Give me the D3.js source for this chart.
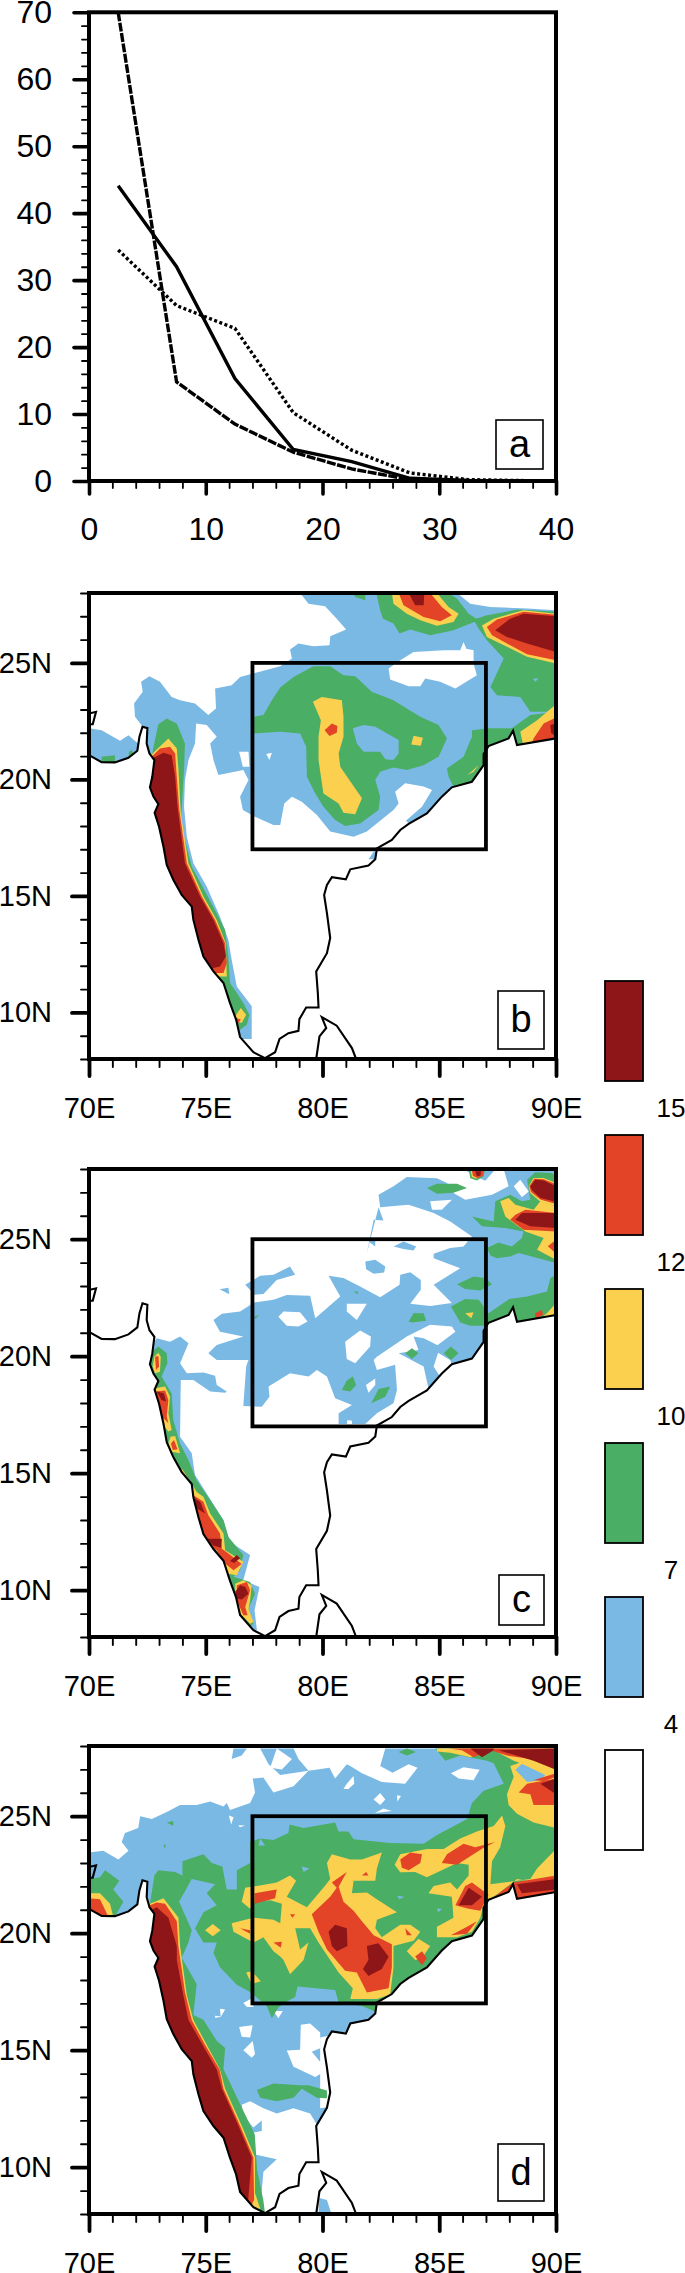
<!DOCTYPE html>
<html>
<head>
<meta charset="utf-8">
<script src="https://d3js.org/d3.v7.min.js"></script>
<style>
body { margin: 0; background: #fff; }
text { font-family: "Liberation Sans", Arial, sans-serif; fill: #000; }
</style>
</head>
<body>
<svg id="chart" width="685" height="2273"></svg>
<script>
// panel a
var binCentres = [2.5, 7.5, 12.5, 17.5, 22.5, 27.5, 32.5, 37.5];
var solidLine = [44.1, 32, 15.3, 4.7, 2.9, 0.4, 0.1, 0];
var dottedLine = [34.5, 26.2, 22.8, 10.2, 4.6, 1.2, 0.2, 0.05];
var dashedLine = [70, 14.8, 8.5, 4.3, 1.8, 0.2, 0.05, 0];

// legend
var levelColors = ["#ffffff", "#7bb9e5", "#4bae65", "#fbd04e", "#e34326", "#8e1518"];
var levelLabels = ["4", "7", "10", "12", "15"];

// map outlines, lon lat
var coast = [[70,21.04],[70.54,20.74],[71.11,20.73],[71.69,20.93],[72.07,21.23],[72.16,21.83],[72.29,22.26],[72.5,22.2],[72.47,21.54],[72.59,21.11],[72.8,20.83],[72.71,20.11],[72.61,19.66],[72.76,19.26],[72.97,18.94],[72.81,18.57],[73,17.97],[73.19,17.11],[73.33,16.33],[73.61,15.69],[73.97,15.04],[74.4,14.54],[74.47,13.97],[74.69,13.11],[74.9,12.4],[75.33,11.76],[75.76,11.26],[76.04,10.4],[76.3,9.69],[76.47,8.94],[77.04,8.29],[77.54,8.04],[77.97,8.29],[78.16,8.86],[78.54,9.11],[78.97,9.21],[79.01,9.71],[79.3,10.21],[79.83,10.21],[79.8,10.83],[79.73,11.76],[80.19,12.54],[80.33,13.19],[80.19,14.26],[80.07,15.04],[80.19,15.47],[80.4,15.8],[81,15.71],[81.19,16.14],[81.97,16.3],[82.26,16.57],[82.33,17.04],[82.97,17.4],[83.33,17.83],[83.69,18.09],[84.47,18.54],[85.11,19.26],[85.54,19.66],[86.4,19.9],[86.9,20.61],[86.9,21.09],[87.11,21.43],[87.97,21.76],[88.16,22.09],[88.33,21.47],[90,21.76]];
var kutch = [[70,22.83],[70.3,22.9],[70.16,22.37],[70,22.37]];
var lanka = [[79.73,8],[79.87,8.97],[80.16,9.33],[79.97,9.8],[80.61,9.43],[81.26,8.47],[81.44,8]];
var boxLons = [77, 87];
var boxLats = [17, 25];

// contour areas, painted in this order: [level index, outline]
var areasB = [
[1,[[79.04,28],[79.4,27.54],[80.11,27.43],[80.61,26.9],[81.01,26.43],[80.33,26.14],[80.3,25.76],[79.61,25.71],[78.97,25.83],[78.61,25.57],[78.69,25.19],[78.19,24.86],[77.47,24.66],[76.47,24.4],[76.11,24.04],[75.4,23.9],[75.44,23.04],[75.11,22.76],[74.54,23.26],[73.9,23.4],[73.54,23.54],[73.04,24.19],[72.59,24.43],[72.23,24.19],[72.3,23.76],[71.93,23.26],[71.97,22.69],[72.3,22.26],[72.5,21.11],[72.47,18.54],[73.04,16.4],[74.47,12.83],[76.19,8.86],[76.97,8.86],[76.97,10.26],[76.33,11.11],[76.11,12.26],[75.97,13.11],[75.61,14.11],[75.04,15.4],[74.47,16.4],[74.19,17.54],[74.07,18.83],[74.11,19.97],[74.26,20.83],[74.54,21.54],[74.59,22.4],[75.04,22.33],[75.47,21.83],[75.19,21.54],[75.33,20.83],[75.54,20.19],[76.61,20.4],[76.83,19.97],[76.47,19.26],[76.59,18.69],[77.11,18.4],[77.9,18.04],[78.19,18.04],[78.36,18.97],[78.69,19.26],[79.11,19.04],[79.76,18.47],[80.33,17.76],[81.33,17.54],[81.9,17.76],[83.04,18.69],[83.26,18.97],[83.11,19.47],[83.54,19.83],[84.33,19.69],[84.69,19.54],[84.26,18.83],[83.57,18.23],[83.9,17.97],[87.33,19.69],[90,21.11],[90,27.26],[88.76,27.33],[87.19,27.4],[86.33,27.54],[85.76,28]]],
[1,[[70,22.19],[70.54,22.11],[71.33,21.66],[71.69,21.9],[72.1,21.54],[72.14,20.83],[70,20.54]]],
[1,[[82.19,16.9],[81.97,16.57],[82.3,16.57],[82.3,16.9]]],
[0,[[83.33,25.11],[83.9,25.47],[85.19,25.54],[85.9,25.54],[86.04,25.9],[86.16,25.61],[86.47,25.54],[86.47,24.97],[86.61,24.47],[85.69,23.9],[85.04,24.19],[84.4,24.33],[84.19,24],[83.69,24],[82.9,24.29],[82.83,24.76]]],
[0,[[74.83,24.29],[75.04,24.29],[74.94,24]]],
[0,[[76.43,21.19],[76.83,21.19],[76.87,20.54],[76.59,20.54]]],
[0,[[77.59,21.09],[77.83,21.14],[77.73,20.83]]],
[2,[[77.07,22.69],[77.47,22.76],[77.83,23.4],[78.19,23.94],[78.76,24.4],[79.61,24.86],[80.33,24.86],[80.9,24.47],[81.4,24.43],[82.11,23.76],[83.04,23.4],[83.61,23.04],[84.19,22.69],[84.97,22.33],[85.33,21.76],[84.97,20.97],[84.33,20.61],[83.61,20.4],[83.04,20.51],[82.47,20.33],[82.26,19.97],[82.47,19.26],[82.4,18.69],[81.61,18.11],[80.97,18],[80.54,18.26],[80.04,18.83],[79.69,19.4],[79.33,20.11],[79.3,21.4],[79.04,21.97],[78.19,22.04],[77.07,21.97]]],
[1,[[81.3,22.19],[81.76,22.33],[82.26,22.26],[83.26,21.69],[83.26,21.11],[83.04,20.83],[82.69,20.86],[82.47,21.19],[81.76,21.19],[81.47,21.54]]],
[2,[[86.4,22.11],[87.11,22.19],[88.11,22.19],[88.9,22.76],[90,22.9],[90,21.11],[87.33,19.69],[85.76,19.4],[85.4,20.11],[85.33,20.47],[86.04,20.97],[86.4,21.83]]],
[2,[[86.47,26.86],[87.04,27.04],[88.33,27.29],[90,27.19],[90,22.9],[88.9,22.9],[88.47,23.54],[87.47,23.61],[87.19,23.97],[87.76,25.19],[87.04,25.97],[86.69,26.47]]],
[2,[[82.3,28],[82.47,27.26],[82.59,26.9],[83.04,26.69],[83.3,26.26],[83.76,26.43],[84.61,26.19],[85.61,26.4],[86.69,26.83],[86.26,27.11],[85.76,27.76],[85.4,28]]],
[2,[[81.33,28],[81.83,28],[81.83,27.69],[81.4,27.83]]],
[1,[[89.01,24.33],[89.26,24.33],[89.11,24.19]]],
[2,[[72.61,20.54],[72.76,21.4],[72.97,22.37],[73.33,22.61],[73.76,22.4],[74.11,21.54],[74.07,20.4],[73.97,18.69],[73.87,17.97],[74.11,17.4],[74.4,16.26],[74.9,15.33],[75.47,14.26],[75.83,13.54],[75.97,12.4],[76.04,11.26],[76.33,10.83],[76.61,10.4],[76.87,9.9],[76.76,9.47],[76.47,9.26],[76.11,9.4],[75.61,10.97],[74.19,13.54],[72.76,17.11],[72.4,19.69]]],
[2,[[70.54,20.97],[71.11,21.04],[71.11,20.54],[70.54,20.54]]],
[2,[[71.71,21.19],[71.83,21.26],[71.93,21.04],[71.69,20.83]]],
[3,[[79.59,23.33],[79.97,23.54],[80.83,23.4],[80.9,22.69],[80.9,21.83],[80.69,21.11],[80.76,20.54],[81.69,19.19],[81.4,18.5],[80.9,18.57],[80.69,18.97],[80.04,19.4],[79.83,20.83],[79.83,21.83],[79.93,22.54]]],
[4,[[80.09,22.11],[80.4,22.4],[80.64,22.29],[80.61,22],[80.3,21.86]]],
[3,[[83.9,21.87],[84.3,21.79],[84.21,21.44],[83.8,21.5]]],
[3,[[86.21,20.19],[86.69,20.61],[86.47,20.33]]],
[3,[[88.47,22.04],[89.19,22.54],[90,23.23],[90,21.4],[88.61,21.4]]],
[4,[[89.04,21.76],[89.47,22.4],[90,22.66],[90,21.4],[88.9,21.4]]],
[5,[[89.76,22.33],[90,22.4],[90,21.83],[89.79,22]]],
[3,[[86.83,26.61],[87.33,26.9],[88.61,27.26],[90,27.11],[90,24.97],[88.76,25.26],[87.9,25.69],[87.04,26.11]]],
[4,[[87.04,26.54],[87.47,26.86],[88.61,27.19],[90,27.07],[90,25.11],[88.76,25.37],[87.9,25.83],[87.26,26.19]]],
[5,[[87.4,26.4],[88.04,26.9],[88.61,27.11],[90,27],[90,25.47],[88.76,25.83],[87.9,26.11]]],
[3,[[82.97,28],[83.04,27.54],[83.61,27.11],[84.19,26.83],[84.9,26.59],[85.61,26.76],[85.83,27.11],[85.4,27.4],[84.9,28]]],
[4,[[83.26,28],[83.47,27.47],[84.33,26.97],[85.04,26.79],[85.54,27.04],[85.11,27.4],[84.61,28]]],
[5,[[83.69,28],[83.97,27.47],[84.33,27.47],[84.36,28]]],
[3,[[72.61,20.97],[72.8,21.19],[73.4,21.76],[73.76,21.33],[73.83,20.4],[73.93,18.54],[74.26,16.4],[74.9,14.97],[75.47,13.97],[75.86,12.97],[75.9,11.54],[75.04,11.54],[74.04,13.54],[72.61,17.11],[72.4,19.69]]],
[4,[[72.61,20.9],[73.04,21.33],[73.47,21.4],[73.69,21.11],[73.76,20.11],[73.87,18.69],[74.19,16.4],[74.83,14.97],[75.4,13.97],[75.83,12.97],[75.9,12.11],[75.76,11.69],[75.04,11.69],[74.04,13.54],[72.61,17.11],[72.4,19.69]]],
[5,[[72.61,20.83],[72.86,20.97],[73.19,21.14],[73.54,21.04],[73.69,20.11],[73.79,18.83],[74.11,16.4],[74.76,14.97],[75.33,13.97],[75.76,12.97],[75.86,12.4],[75.61,11.97],[75.26,11.9],[74.9,12.11],[74.04,13.54],[72.61,17.11],[72.4,19.69]]],
[3,[[76.26,9.83],[76.5,10.19],[76.73,9.9],[76.54,9.54],[76.33,9.61]]],
[4,[[76.19,9.8],[76.5,9.69],[76.4,9.54],[76.19,9.54]]]
];

var areasC = [
[1,[[75.33,21.55],[75.69,21.81],[76.47,21.91],[77.07,22.29],[77.9,22.41],[78.47,22.62],[79.47,22.58],[79.69,21.62],[80.76,22.55],[80.26,23.44],[80.9,23.34],[81.61,22.98],[82.47,22.52],[83.3,23.05],[83.33,23.48],[83.76,23.59],[84.21,23.26],[84.21,22.84],[83.76,22.24],[84.61,22.15],[85.54,22.27],[84.76,23.05],[85.9,23.76],[84.76,24.19],[84.76,24.38],[85.47,24.62],[86.04,24.69],[86.4,25.12],[85.47,25.76],[84.76,26.12],[83.69,26.47],[82.47,26.37],[82.4,26.9],[83.04,27.26],[83.61,27.66],[84.9,27.61],[85.33,27.4],[85.61,26.97],[86.11,26.69],[87.26,26.9],[87.97,27.26],[87.76,28],[90,28],[90,21.41],[87.33,19.7],[85.61,19.41],[85.47,19.84],[84.69,20.3],[85.69,21.05],[85.54,21.27],[84.61,21.34],[83.61,20.84],[82.33,19.98],[82.19,19.84],[82.33,19.41],[83.11,19.63],[83.19,18.56],[83.04,17.99],[82.33,17.56],[81.83,17.1],[80.69,17.1],[80.69,17.56],[81.26,17.91],[80.54,18.2],[80.19,19.13],[79.76,19.41],[79.4,19.13],[78.61,19.27],[77.69,18.7],[77.73,18.27],[77.4,17.84],[76.61,17.87],[76.73,19.56],[76.83,19.84],[75.47,19.84],[75.11,20.13],[75.47,20.48],[76.61,20.84],[75.61,21.05]]],
[1,[[84.11,20.27],[83.9,20.84],[84.33,20.77],[85.04,20.41],[84.76,19.56],[85.11,19],[84.56,18.53],[84.33,19.56],[83.26,20.13]]],
[1,[[86.04,28],[86.4,27.76],[86.97,27.5],[87.33,27.9],[87.4,28]]],
[0,[[78.11,21.69],[78.33,21.91],[79.04,21.88],[79.36,21.48],[78.97,21.27],[78.47,21.3]]],
[0,[[81.04,22.24],[81.9,22.24],[81.47,21.55],[81.04,21.91]]],
[0,[[80.97,20.62],[81.61,21.1],[82.07,20.84],[82.04,20.41],[81.4,19.7],[81.04,19.88]]],
[0,[[81.86,18.77],[82.26,19.05],[82.26,18.77],[81.97,18.44]]],
[0,[[88.19,27.26],[88.47,27.54],[88.83,27.04],[88.54,26.79]]],
[0,[[84.61,26.62],[85.54,26.69],[85.11,26.26],[84.69,26.26]]],
[0,[[81.04,17.1],[81.07,17.27],[81.26,17.24],[81.26,17.1]]],
[1,[[81.97,24.9],[82.26,24.95],[82.26,24.69]]],
[1,[[83.04,24.69],[83.47,24.9],[84.01,24.69],[83.9,24.52],[83.47,24.58]]],
[1,[[81.83,24.05],[82.26,24.12],[82.69,23.83],[82.64,23.58],[82.19,23.52],[81.87,23.72]]],
[1,[[76.69,23.05],[77.33,23.44],[77.9,23.48],[78.61,23.83],[78.83,23.48],[78.04,23.26],[77.47,22.66],[77.09,22.63]]],
[1,[[75.59,22.86],[75.97,22.93],[76.01,22.65]]],
[1,[[81.9,24.4],[82.4,26.37],[82.61,25.8],[82.19,25.83]]],
[1,[[72.8,20.62],[72.9,20.77],[73.47,20.62],[73.9,20.84],[74.26,20.55],[73.9,19.7],[74.19,19.27],[74.9,19.3],[75.4,19.16],[75.47,18.77],[75.9,18.49],[75.83,18.44],[75.19,18.49],[74.47,18.98],[73.93,18.98],[73.9,16.56],[74.4,15.85],[74.54,14.92],[75.04,14.13],[75.76,12.99],[76.04,12.06],[76.9,11.5],[76.61,10.43],[77.3,10.14],[77.09,9.14],[77.19,8.3],[76.76,8.3],[76.19,9.4],[75.61,10.97],[74.19,13.54],[72.76,17.11],[72.4,19.69],[72.61,20.55]]],
[2,[[84.47,27.19],[84.9,27.37],[85.76,27.37],[86.19,27.19],[85.61,26.99],[84.9,26.94]]],
[2,[[86.4,25.97],[87.33,25.76],[87.4,26.62],[88.04,26.9],[88.54,26.62],[88.9,26.69],[88.76,27.54],[89.11,27.86],[89.83,27.83],[90,27.69],[90,23.98],[88.4,24.41],[88.04,24.26],[87.47,24.19],[87.19,24.3],[87.04,24.62],[87.54,24.86],[88.11,24.69],[88.54,25.05],[88.61,25.33],[87.83,25.48],[86.83,25.55]]],
[2,[[85.76,23.08],[86.47,23.41],[86.97,23.34],[87.26,23.08],[86.76,22.81],[86.11,22.87]]],
[2,[[85.5,22.12],[86.11,22.44],[86.69,22.41],[87.11,21.84],[88,22.44],[88.76,22.55],[89.61,22.76],[89.76,23.34],[90,23.48],[90,21.41],[88.33,21.2],[88.11,21.9],[87.97,21.3],[87.11,21.3],[86.33,21.3],[85.9,21.44]]],
[2,[[83.69,21.48],[83.9,21.84],[84.33,21.84],[84.44,21.52],[83.83,21.44]]],
[2,[[83.54,20.13],[83.83,20.34],[84.11,20.13],[83.83,19.88]]],
[2,[[85.19,20.13],[85.5,20.41],[85.83,20.13],[85.5,19.84]]],
[2,[[80.83,18.56],[81.04,18.96],[81.3,19.13],[81.44,18.77],[81.19,18.49]]],
[2,[[82.09,17.99],[82.4,18.6],[82.9,18.7],[82.69,18.27]]],
[2,[[81.33,22.76],[81.51,22.76],[81.51,22.65]]],
[2,[[77.07,21.69],[77.29,21.77],[77.11,21.59]]],
[2,[[72.61,20.13],[72.97,20.41],[73.33,20.13],[73.36,19.7],[73.11,19.13],[73.54,18.41],[73.61,17.27],[73.9,16.27],[74.26,15.56],[74.61,14.7],[75.19,13.85],[75.76,12.99],[75.97,12.27],[76.61,11.5],[76.47,10.85],[76.19,10.57],[76.9,10.35],[77.11,9.85],[76.83,9.21],[77.04,8.57],[76.9,8.43],[76.47,8.86],[76.11,9.4],[75.61,10.97],[74.19,13.54],[72.76,17.11],[72.4,19.69]]],
[3,[[87.61,26.62],[87.97,26.76],[88.26,26.47],[89.04,26.26],[89.33,26.62],[90,26.4],[90,24.12],[89.19,24.55],[89.47,25.05],[88.69,25.33],[88.19,25.69],[87.83,25.97]]],
[4,[[88.04,25.83],[88.26,26.05],[88.69,26.26],[90,26.12],[90,25.33],[88.61,25.4]]],
[5,[[88.26,25.83],[88.54,26.12],[90,26.12],[90,25.48],[88.9,25.55]]],
[4,[[89.65,24.7],[90,24.98],[90,24.39]]],
[3,[[88.83,27.26],[89.04,27.62],[89.47,27.62],[90,27.4],[90,26.4],[89.33,26.6],[88.9,26.97]]],
[4,[[88.86,27.26],[89.07,27.58],[89.47,27.56],[90,27.35],[90,26.5],[89.33,26.7],[88.93,27.02]]],
[5,[[88.9,27.26],[89.11,27.54],[89.47,27.51],[90,27.26],[90,26.6],[89.33,26.76],[88.97,27.1]]],
[2,[[86.26,28],[86.97,28],[86.9,27.69],[86.61,27.51],[86.33,27.61]]],
[3,[[86.33,28],[86.9,28],[86.83,27.76],[86.61,27.58],[86.4,27.66]]],
[4,[[86.4,27.94],[86.9,27.94],[86.87,27.71],[86.64,27.61],[86.44,27.71]]],
[5,[[86.54,27.9],[86.79,27.9],[86.76,27.71],[86.61,27.69]]],
[3,[[86.11,21.84],[86.47,21.88],[86.37,21.62]]],
[3,[[89.04,21.4],[89.61,21.84],[90,22.27],[90,21.41]]],
[4,[[89.11,21.84],[89.4,21.98],[89.44,21.77],[89.11,21.6]]],
[3,[[72.8,19.98],[72.97,20.15],[73.07,19.98],[73.04,19.34],[72.83,19.27],[72.73,19.56]]],
[4,[[72.83,19.98],[72.97,20.01],[73,19.56],[72.87,19.41]]],
[3,[[72.83,18.63],[73.26,18.7],[73.47,18.27],[73.4,17.56],[73.54,16.85],[73.4,16.78],[73.11,17.13],[72.97,17.99]]],
[4,[[72.86,18.49],[73.26,18.53],[73.4,18.13],[73.33,17.42],[73.4,17.13],[73.11,17.42],[73.01,17.99]]],
[5,[[72.9,18.49],[73.21,18.41],[73.3,18.06],[73.11,18.13]]],
[3,[[73.49,16.56],[73.69,16.59],[73.9,15.85],[73.54,15.92],[73.4,16.27]]],
[4,[[73.51,16.27],[73.64,16.42],[73.79,16.02],[73.59,15.99]]],
[3,[[73.97,15.2],[74.4,14.56],[74.61,14.2],[74.9,13.99],[75.19,13.28],[75.76,12.42],[75.83,11.71],[76.61,11.22],[76.33,10.64],[75.9,10.71],[75.61,11.43],[74.19,13.7]]],
[4,[[74.47,14.06],[74.9,13.78],[75.11,13.2],[75.61,12.42],[75.69,11.77],[75.97,11.57],[76.54,11.12],[76.19,10.85],[75.83,11.14],[75.47,11.71],[74.9,12.13],[74.61,13.56]]],
[5,[[74.54,13.92],[74.76,13.78],[74.97,13.28],[74.61,13.5]]],
[5,[[75.04,12.2],[75.69,12.2],[75.66,11.81],[75.33,11.91]]],
[5,[[76.04,11.25],[76.33,11.5],[76.47,11.37],[76.21,11.16]]],
[3,[[76.26,10.28],[76.61,10.43],[76.97,10.21],[76.9,9.57],[76.83,9.21],[77.04,8.64],[76.9,8.57],[76.47,9],[76.26,9.71]]],
[4,[[76.33,10.21],[76.76,10.35],[76.9,10],[76.69,9.28],[76.79,8.93],[76.61,8.93],[76.33,9.57]]],
[5,[[76.26,9.93],[76.47,10.21],[76.69,10.14],[76.83,9.85],[76.54,9.6],[76.33,9.64]]]
];

var areasD = [
[1,[[70,23.45],[70.61,23.52],[71.26,23.15],[71.69,23.52],[71.4,23.9],[71.54,24.28],[72.11,24.5],[72.19,25],[72.69,24.88],[73.33,25.18],[73.9,25.48],[74.61,25.48],[75.19,25.63],[75.76,25.41],[75.9,25.56],[76.04,25.26],[76.9,25.56],[77.11,26.01],[77.01,26.61],[77.47,26.65],[77.9,26.01],[78.76,26.28],[79.4,26.94],[80.3,27.07],[80.54,26.61],[81.04,27.22],[81.19,27.14],[81.69,26.84],[82.54,26.46],[83.54,26.39],[84.07,27.07],[83.69,27.22],[83,26.86],[82.47,27.14],[82.69,27.89],[90,27.89],[90,21.11],[87.33,19.6],[83.9,17.65],[82.47,16.59],[81.33,15.84],[79.9,15.54],[79.9,12.52],[80.47,12.6],[79.76,11.82],[79.47,12.3],[78.76,12.52],[78.04,12.3],[77.47,12.52],[76.9,12.82],[76.54,12.67],[76.61,12.22],[77.04,11.7],[77.4,12],[77.4,11.55],[77.01,11.47],[77.04,10.56],[78.04,10.34],[77.47,9.81],[77.33,8.23],[76.76,8],[76.19,9.05],[75.61,11.01],[74.19,13.58],[72.61,17.42],[72.4,20.06],[72.19,20.66],[70,20.66]]],
[1,[[76.11,27.44],[76.54,27.59],[76.76,27.89],[76.19,27.89]]],
[1,[[77.33,27.89],[77.69,27.22],[78.19,26.76],[79.4,26.94],[78.97,27.44],[78.76,27.89]]],
[0,[[77.76,27.07],[78.04,27.89],[78.69,27.44],[78.26,27.0]]],
[0,[[81.04,26.39],[81.33,26.72],[81.36,26.39],[81.11,26.16],[80.9,26.16]]],
[0,[[82.19,25.71],[82.47,25.99],[82.69,25.71],[82.47,25.48]]],
[0,[[83.19,25.9],[83.36,25.86],[83.21,25.63]]],
[0,[[85.5,26.84],[86.04,27.09],[86.73,26.99],[86.47,26.54],[85.83,26.61]]],
[0,[[82.19,25.11],[82.61,25.33],[82.97,25.22],[82.26,25.14]]],
[0,[[75.99,25.03],[76.19,24.96],[76.09,24.65]]],
[0,[[76.4,24.61],[76.69,24.6],[76.46,24.53]]],
[0,[[75.4,16.47],[75.64,16.44],[75.61,16.77],[75.83,16.74],[75.64,16.42],[75.4,16.39]]],
[0,[[76.43,15.99],[77.01,16.07],[76.9,15.54],[76.54,15.57]]],
[0,[[76.61,15],[77.01,15.39],[77.11,14.83],[76.97,14.68]]],
[0,[[78.47,14.99],[79.04,15.02],[79.07,16.09],[79.47,16.14],[79.9,15.76],[79.9,15.08],[79.54,14.93],[80.19,14.15],[79.69,13.85],[78.76,14.29]]],
[0,[[76.61,17.02],[77.04,17.25],[77.04,16.85],[76.76,16.85]]],
[0,[[77.9,16.67],[78.3,16.67],[78.11,16.37]]],
[1,[[79.87,8.68],[80.19,8.6],[80.36,8.07],[79.83,8],[79.9,9.3]]],
[2,[[77.54,8],[77.47,8.57],[77.2,9.9],[77.1,11.4],[76.47,12.7],[75.76,14.2],[75.83,15.09],[75.47,15.4],[74.9,16.3],[74.47,16.5],[74.61,17.83],[73.97,18.95],[74.26,19.6],[74.4,20.13],[73.86,21.34],[74.4,22.32],[75.4,22.09],[75.04,21.71],[75.47,21.19],[74.9,20.89],[74.54,20.2],[74.9,19.6],[75.47,19.6],[75.33,19.15],[75.61,18.55],[76.33,17.8],[76.9,17.49],[77.61,16.89],[77.83,16.37],[78.11,16.82],[78.4,17.04],[78.83,17.27],[78.93,17.72],[80.54,17.57],[80.69,17.04],[81.69,16.89],[82.4,16.59],[83.9,17.65],[87.33,19.6],[90,21.11],[90,27.89],[84.83,27.89],[85.26,27.37],[85.9,27.59],[87.04,27.37],[87.33,27.26],[87.76,26.39],[86.9,26.09],[86.4,25.56],[86.19,24.88],[84.9,24.2],[84.33,23.82],[82.9,23.85],[81.33,24.02],[81.11,24.35],[80.69,24.35],[80.54,24.73],[79.19,24.5],[78.59,24.65],[78.54,24.28],[77.9,23.98],[77.33,24.05],[76.9,23.9],[76.9,23],[76.33,22.69],[76.33,21.87],[75.9,21.87],[75.71,22.85],[75.26,23],[74.9,23.37],[74,23.07],[74,22.47],[73.69,22.62],[72.97,22.69],[72.8,22.47],[72.61,21.26],[72.4,20.06],[72.61,17.42],[74.19,13.58],[75.61,11.01],[76.19,9.05],[76.76,8]]],
[1,[[77.33,24.05],[77.54,23.75],[77.26,23.75]]],
[1,[[79.11,22.85],[79.44,22.77],[79.19,22.62]]],
[1,[[84.9,21.04],[85.11,21.04],[84.97,20.89]]],
[1,[[83.19,21.6],[83.5,21.56],[83.3,21.45]]],
[2,[[73.33,24.73],[73.61,24.8],[73.61,24.58]]],
[2,[[73.19,23.75],[73.27,23.82],[73.27,23.6]]],
[2,[[83.26,27.74],[83.61,27.89],[84.01,27.74],[83.61,27.59]]],
[2,[[77.19,13.3],[77.9,13.58],[79.04,13.5],[79.4,13.5],[80.19,13.28],[80.19,12.95],[79.76,12.97],[79.11,13.35],[78.76,12.97],[78.04,12.82],[77.33,12.97]]],
[2,[[70,22.32],[70.47,22.39],[70.69,22.69],[71.3,22.24],[71.04,21.87],[71.47,21.34],[71.11,20.7],[70,20.7]]],
[3,[[70,21.71],[70.47,21.71],[70.9,21.26],[71.04,20.7],[70,20.7]]],
[4,[[70,21.49],[70.47,21.45],[70.83,20.7],[70,20.7]]],
[3,[[76.54,21.34],[76.69,21.94],[77.19,22.02],[78.04,22.17],[78.61,22.47],[78.87,22.24],[78.47,21.56],[79.33,21.11],[80.1,22.02],[80.33,22.32],[80.19,23],[80.4,23.37],[81.19,23.15],[81.69,23.15],[82.54,23.45],[82.33,22.77],[82.26,22.24],[81.33,22.24],[81.26,21.71],[81.9,21.74],[82.26,21.49],[83.19,20.89],[82.33,20.58],[82.26,20.21],[82.54,19.83],[83.33,20.36],[83.76,20.36],[84.19,20.06],[83.9,19.68],[83.04,19.45],[83.04,18.55],[82.9,17.38],[82.33,17.19],[81.19,17.19],[81.3,17.65],[80.69,18.32],[79.83,19.6],[79.47,20.21],[78.83,20.21],[79.04,19.3],[79.4,19.6],[79.19,18.85],[78.61,18.25],[78.33,18.85],[78.19,19],[77.9,19.23],[77.47,19.83],[77.04,19.6],[76.19,20.06],[76.11,20.43],[76.69,20.58],[77.04,20.66],[77.9,20.58],[78.19,20.43],[78.26,21.26],[77.76,21.41],[77.11,21.34],[76.9,21.04]]],
[3,[[74.97,20.13],[75.3,20.39],[75.64,20.13],[75.3,19.87]]],
[3,[[76.73,18.32],[76.97,18.37],[77.36,17.95],[76.97,17.83]]],
[3,[[83.09,22.92],[83.33,23.37],[84.47,23.6],[85.19,23.6],[85.9,24.05],[86.61,24.35],[87.33,24.58],[87.69,25.03],[87.83,24.58],[87.61,23.67],[87.26,23.07],[87.19,22.09],[88.9,22.32],[89.19,22.77],[90,23.6],[90,22.02],[88.33,22.32],[87.76,21.87],[87.11,21.41],[86.9,21.26],[86.76,20.66],[86.4,20.06],[85.76,19.83],[84.9,19.83],[84.9,20.28],[85.61,20.66],[85.54,21.56],[84.54,21.71],[84.76,22.02],[85.47,22.17],[85.76,21.87],[86.26,22.47],[86.26,22.92],[85.76,23],[84.47,22.39],[83.97,22.62],[83.33,22.6]]],
[3,[[83.61,19.23],[84.11,19.76],[84.61,19.45],[84.26,18.93],[83.97,18.85]]],
[3,[[87.9,25.94],[88.19,26.69],[88.04,27.14],[88.69,27.37],[90,27],[90,24.5],[89.04,24.73],[88.33,25.11],[87.97,25.48]]],
[1,[[88.26,26.99],[88.54,27.24],[89.54,26.76],[89.33,26.54],[88.76,26.46]]],
[3,[[84.9,27.76],[85.47,27.71],[86.33,27.52],[87.33,27.82],[87.9,27.52],[88.19,27.37],[89.61,26.84],[90,26.99],[90,27.89],[84.9,27.89]]],
[4,[[85.4,27.89],[85.97,27.82],[86.47,27.52],[87.19,27.82],[87.9,27.59],[88.9,27.44],[90,27],[90,27.89]]],
[5,[[86.33,27.89],[86.83,27.52],[87.33,27.82],[87.33,27.89]]],
[5,[[87.54,27.82],[90,27.89],[90,26.99],[89.04,27.37]]],
[4,[[89.04,26.54],[90,26.84],[90,26.69],[89.5,26.5]]],
[4,[[88.4,26.01],[88.76,26.39],[90,26.61],[90,25.48],[89.04,25.48],[88.9,25.94]]],
[5,[[89.33,26.39],[90,26.61],[90,25.94]]],
[4,[[79.54,20.81],[80.33,21.56],[80.61,21.94],[80.4,22.17],[81.04,22.62],[80.69,21.99],[80.9,21.34],[81.33,20.96],[81.69,20.51],[82.19,19.91],[82.97,19.53],[82.97,18.55],[82.83,17.65],[81.9,17.47],[81.47,18.32],[80.97,18.4],[80.19,19.3],[79.83,20.06]]],
[5,[[80.26,20.06],[80.54,20.36],[81.04,20.21],[81.07,19.45],[80.61,19.23],[80.4,19.45]]],
[5,[[81.9,19.45],[82.4,19.57],[82.83,18.99],[82.54,18.47],[81.97,18.17],[81.73,18.47],[81.97,18.85]]],
[4,[[77.09,21.71],[78.04,21.87],[77.97,21.49],[77.09,21.26]]],
[4,[[83.33,23.15],[83.76,23.45],[84.26,23.37],[84.19,23],[83.69,22.69],[83.4,22.8]]],
[4,[[85.11,23],[85.33,23.37],[86.04,23.82],[86.54,23.67],[87.4,23.9],[86.9,23.65],[86.11,23.15],[85.76,22.92]]],
[4,[[83.61,19.91],[83.54,20.21],[83.83,19.91]]],
[4,[[83.97,19],[84.26,19.23],[84.47,18.93],[84.26,18.63]]],
[4,[[77.9,19.6],[78.26,19.63],[78.21,19.38]]],
[4,[[76.47,20.21],[76.9,19.98],[76.9,20.13]]],
[4,[[78.61,20.81],[78.83,20.81],[78.71,20.66]]],
[4,[[81.69,22.47],[81.87,22.62],[81.97,22.47]]],
[4,[[85.69,21.19],[86.11,22.02],[86.4,22.17],[87.11,21.64],[86.76,20.96],[86.26,21.04]]],
[5,[[85.83,21.19],[86.26,21.94],[86.83,21.56],[86.4,21.19]]],
[4,[[85.5,19.91],[86.19,20.28],[86.61,20.51],[86.19,19.98]]],
[3,[[89.76,23],[90,23],[90,22.8]]],
[4,[[88.19,22.17],[90,22.47],[90,21.71],[88.33,21.34],[87.33,21.49],[87.11,21.34],[87.76,21.87]]],
[5,[[88.33,22.09],[90,22.32],[90,21.87],[88.54,21.71]]],
[3,[[72.61,21.26],[72.83,21.34],[73.19,21.49],[73.83,20.66],[73.9,19.45],[74.19,17.34],[74.47,16.29],[75.04,15.23],[75.61,14.18],[75.83,13.35],[76.54,11.77],[77.11,10.41],[77.11,8.9],[77.33,8.23],[76.76,8],[76.19,9.05],[75.61,11.01],[74.19,13.58],[72.61,17.42],[72.4,20.06]]],
[4,[[72.61,21.19],[72.9,21.31],[73.26,21.26],[73.76,20.51],[73.83,19.45],[74.11,17.49],[74.4,16.29],[74.97,15.23],[75.59,14.18],[75.76,13.35],[76.47,11.77],[77.04,10.41],[77.07,8.6],[76.76,8],[76.19,9.05],[75.61,11.01],[74.19,13.58],[72.61,17.42],[72.4,20.06]]],
[5,[[72.61,20.96],[72.9,21.11],[73.4,20.66],[73.76,19.45],[73.76,18.85],[74.04,17.34],[74.26,16.29],[74.9,15.16],[75.47,14.18],[75.69,13.35],[76.4,11.77],[76.97,10.41],[76.83,8.75],[76.76,8],[76.19,9.05],[75.61,11.01],[74.19,13.58],[72.61,17.42],[72.4,20.06]]]
];

var legendLeft = 605, legendWidth = 38;
var legendTops = [981, 1135, 1289, 1443, 1597, 1750];
var mapLonMajor = [70, 75, 80, 85, 90];
var mapLonMinor = d3.range(70, 91, 1);
var mapLatMajor = [10, 15, 20, 25];
var mapLatMinor = d3.range(8, 29, 1);

var svg = d3.select("#chart");
var plotLeft = 89, plotRight = 556;

// axes: major and minor ticks are two axis calls
var drawTicks = function (g, axis, tickValues, size, width, labels) {
    var a = g.append("g")
        .call(axis.tickValues(tickValues).tickSize(size).tickPadding(labels ? labels.pad : 0)
            .tickFormat(labels ? labels.format : ""));
    a.select(".domain").remove();
    a.selectAll("line").attr("stroke", "#000").attr("stroke-width", width).attr("stroke-linecap", "round");
    a.selectAll("text").attr("font-size", labels ? labels.size : 0)
        .attr("font-family", "Liberation Sans").attr("fill", "#000");
    return a;
};

var labelBox = function (g, letter, x0, x1, y0, y1) {
    g.append("rect").attr("x", x0).attr("y", y0).attr("width", x1 - x0).attr("height", y1 - y0)
        .attr("fill", "#fff").attr("stroke", "#000").attr("stroke-width", 1.6);
    g.append("text").attr("x", (x0 + x1) / 2).attr("y", (y0 + y1) / 2 + 12)
        .attr("text-anchor", "middle").attr("font-size", 38).text(letter);
};

// panel a
var xA = d3.scaleLinear().domain([0, 40]).range([plotLeft, plotRight]);
var yA = d3.scaleLinear().domain([0, 70]).range([481, 12.3]);

var panelA = svg.append("g").attr("id", "panel-a");
var lineA = d3.line().x(function (d) { return xA(d[0]); }).y(function (d) { return yA(d[1]); });
var seriesA = [
    { values: solidLine, dash: null },
    { values: dottedLine, dash: "3,2.5" },
    { values: dashedLine, dash: "9,1.5" }
];
panelA.selectAll("path.series").data(seriesA).enter().append("path")
    .attr("class", "series")
    .attr("d", function (s) { return lineA(s.values.map(function (v, i) { return [binCentres[i], v]; })); })
    .attr("fill", "none").attr("stroke", "#000").attr("stroke-width", 3.4)
    .attr("stroke-dasharray", function (s) { return s.dash; });

var axB = panelA.append("g").attr("transform", "translate(0,481)");
drawTicks(axB, d3.axisBottom(xA), d3.range(0, 41, 2), 7, 1.8);
drawTicks(axB, d3.axisBottom(xA), d3.range(0, 41, 10), 13, 3.6, { pad: 23, size: 32, format: d3.format("d") });
var ayA = panelA.append("g").attr("transform", "translate(" + plotLeft + ",0)");
drawTicks(ayA, d3.axisLeft(yA), d3.range(0, 71, 2), 7, 1.8);
drawTicks(ayA, d3.axisLeft(yA), d3.range(0, 71, 10), 15, 3.6, { pad: 22, size: 32, format: d3.format("d") });
panelA.append("rect").attr("x", plotLeft).attr("y", 12.3).attr("width", plotRight - plotLeft).attr("height", 468.7)
    .attr("fill", "none").attr("stroke", "#000").attr("stroke-width", 4);
labelBox(panelA, "a", 496, 543, 420, 469);

// map panels
var drawMap = function (id, areas, top, bottom, letter, box) {
    var x = d3.scaleLinear().domain([70, 90]).range([plotLeft, plotRight]);
    var y = d3.scaleLinear().domain([8, 28]).range([bottom, top]);
    var geo = d3.line().x(function (d) { return x(d[0]); }).y(function (d) { return y(d[1]); });
    var g = svg.append("g").attr("id", id);

    // contour data is masked to land
    g.append("clipPath").attr("id", id + "-land").append("path")
        .attr("d", geo(coast.concat([[90, 28], [70, 28]])) + "Z" + geo(lanka) + "Z");

    g.append("g").attr("clip-path", "url(#" + id + "-land)")
        .selectAll("path").data(areas).enter().append("path")
        .attr("d", function (a) { return geo(a[1]) + "Z"; })
        .attr("fill", function (a) { return levelColors[a[0]]; });

    g.selectAll("path.outline").data([coast, kutch, lanka]).enter().append("path")
        .attr("class", "outline").attr("d", geo)
        .attr("fill", "none").attr("stroke", "#000").attr("stroke-width", 2.1);

    var ax = g.append("g").attr("transform", "translate(0," + bottom + ")");
    drawTicks(ax, d3.axisBottom(x), mapLonMinor, 8, 1.9);
    drawTicks(ax, d3.axisBottom(x), mapLonMajor, 17, 3.8, { pad: 21, size: 29, format: function (d) { return d + "E"; } });
    var ay = g.append("g").attr("transform", "translate(" + plotLeft + ",0)");
    drawTicks(ay, d3.axisLeft(y), mapLatMinor, 8, 1.9);
    drawTicks(ay, d3.axisLeft(y), mapLatMajor, 17, 3.8, { pad: 20, size: 29, format: function (d) { return d + "N"; } });

    g.append("rect").attr("x", x(boxLons[0])).attr("y", y(boxLats[1]))
        .attr("width", x(boxLons[1]) - x(boxLons[0])).attr("height", y(boxLats[0]) - y(boxLats[1]))
        .attr("fill", "none").attr("stroke", "#000").attr("stroke-width", 3.8);
    g.append("rect").attr("x", plotLeft).attr("y", top).attr("width", plotRight - plotLeft).attr("height", bottom - top)
        .attr("fill", "none").attr("stroke", "#000").attr("stroke-width", 4);
    labelBox(g, letter, box[0], box[1], box[2], box[3]);
};

drawMap("panel-b", areasB, 593, 1059, "b", [498, 544, 991, 1049]);
drawMap("panel-c", areasC, 1169, 1637, "c", [499, 544, 1575, 1625]);
drawMap("panel-d", areasD, 1746, 2214, "d", [498, 544, 2144, 2201]);

// legend, from the top level down
var legend = svg.append("g").attr("id", "legend");
legend.selectAll("rect").data(levelColors.slice().reverse()).enter().append("rect")
    .attr("x", legendLeft)
    .attr("y", function (d, i) { return legendTops[i]; })
    .attr("width", legendWidth).attr("height", 100)
    .attr("fill", function (d) { return d; })
    .attr("stroke", "#000").attr("stroke-width", 1.8);
legend.selectAll("text").data(levelLabels.slice().reverse()).enter().append("text")
    .attr("x", 671)
    .attr("y", function (d, i) { return (legendTops[i] + 100 + legendTops[i + 1]) / 2 + 9; })
    .attr("text-anchor", "middle").attr("font-size", 26)
    .text(function (d) { return d; });
</script>
</body>
</html>
